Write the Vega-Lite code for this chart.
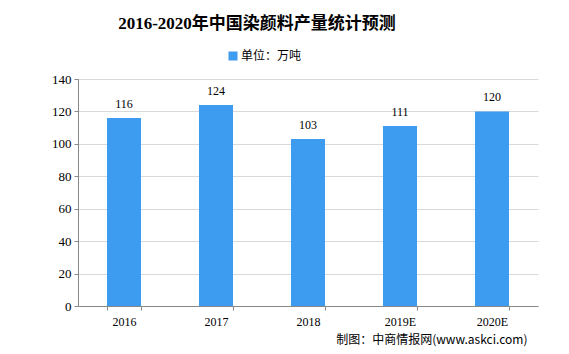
{
  "$schema": "https://vega.github.io/schema/vega-lite/v6.json",
  "width": 460,
  "height": 227,
  "autosize": {"type": "none"},
  "padding": {"left": 78, "top": 79, "right": 31, "bottom": 48},
  "background": "white",
  "title": {
    "text": "2016-2020年中国染颜料产量统计预测",
    "anchor": "middle",
    "frame": "group",
    "dx": -51,
    "offset": 17,
    "font": "Liberation Serif, Noto Sans CJK SC",
    "fontSize": 17,
    "fontWeight": "bold",
    "color": "#000000"
  },
  "data": {
    "values": [
      {"year": "2016", "value": 116, "unit": "单位：万吨"},
      {"year": "2017", "value": 124, "unit": "单位：万吨"},
      {"year": "2018", "value": 103, "unit": "单位：万吨"},
      {"year": "2019E", "value": 111, "unit": "单位：万吨"},
      {"year": "2020E", "value": 120, "unit": "单位：万吨"}
    ]
  },
  "encoding": {
    "x": {
      "field": "year",
      "type": "nominal",
      "sort": null,
      "scale": {"paddingInner": 0.63, "paddingOuter": 0.315},
      "axis": {
        "title": "制图：中商情报网(www.askci.com)",
        "titleAnchor": "end",
        "titleAlign": "right",
        "titleX": 449,
        "titleY": 33,
        "titleBaseline": "middle",
        "titleFont": "Noto Sans CJK SC",
        "titleFontSize": 12,
        "titleFontWeight": "normal",
        "titleColor": "#000000",
        "labelAngle": 0,
        "labelFont": "Liberation Serif",
        "labelFontSize": 12,
        "labelColor": "#000000",
        "labelPadding": 6,
        "domainColor": "#888888",
        "tickColor": "#888888",
        "tickBand": "extent",
        "tickSize": 4,
        "grid": false
      }
    },
    "y": {
      "field": "value",
      "type": "quantitative",
      "scale": {"domain": [0, 140], "nice": false},
      "axis": {
        "title": null,
        "values": [0, 20, 40, 60, 80, 100, 120, 140],
        "labelFont": "Liberation Serif",
        "labelFontSize": 13,
        "labelColor": "#000000",
        "labelPadding": 3,
        "domainColor": "#888888",
        "tickColor": "#888888",
        "tickSize": 4,
        "gridColor": "#d9d9d9",
        "grid": true
      }
    }
  },
  "layer": [
    {
      "mark": {"type": "bar", "color": "#3d9cf0"},
      "encoding": {
        "color": {
          "field": "unit",
          "type": "nominal",
          "scale": {"range": ["#3d9cf0"]},
          "legend": {
            "title": null,
            "orient": "none",
            "legendX": 149,
            "legendY": -29,
            "symbolType": "square",
            "symbolSize": 81,
            "symbolStrokeWidth": 0,
            "symbolOpacity": 1,
            "labelFont": "Noto Sans CJK SC",
            "labelFontSize": 12,
            "labelColor": "#000000",
            "labelOffset": 2
          }
        }
      }
    },
    {
      "mark": {
        "type": "text",
        "dy": -14,
        "font": "Liberation Serif",
        "fontSize": 12,
        "color": "#000000"
      },
      "encoding": {"text": {"field": "value", "type": "quantitative"}}
    }
  ],
  "config": {"view": {"stroke": null}}
}
